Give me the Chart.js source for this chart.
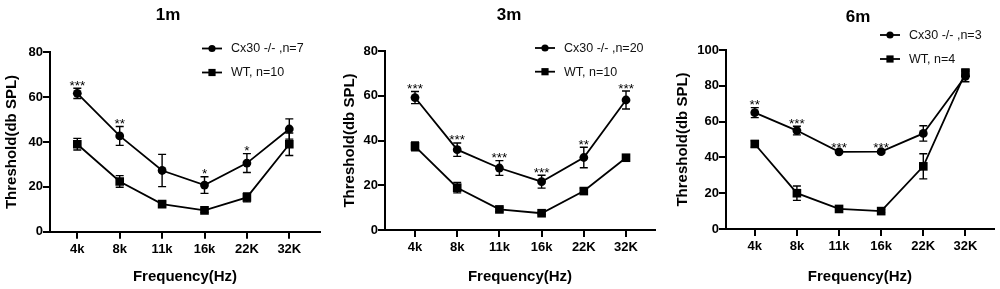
<!DOCTYPE html>
<html>
<head>
<meta charset="utf-8">
<script src="https://cdn.jsdelivr.net/npm/chart.js@4.4.1/dist/chart.umd.min.js"></script>
<style>
  html, body { margin: 0; padding: 0; background: #fff; }
  #wrap { position: relative; width: 1000px; height: 289px; overflow: hidden; background: #fff; }
  canvas { position: absolute; top: 0; }
</style>
</head>
<body>
<div id="wrap">
  <canvas id="c1" width="330" height="289" style="left:0px"></canvas>
  <canvas id="c2" width="335" height="289" style="left:330px"></canvas>
  <canvas id="c3" width="335" height="289" style="left:665px"></canvas>
</div>
<script>
// ---- data ----
const categories = ['4k', '8k', '11k', '16k', '22K', '32K'];
const panelTitles = ['1m', '3m', '6m'];
const cxLabels = ['Cx30 -/- ,n=7', 'Cx30 -/- ,n=20', 'Cx30 -/- ,n=3'];
const wtLabels = ['WT, n=10', 'WT, n=10', 'WT, n=4'];

const m1Cx = [61.7, 42.7, 27.3, 20.8, 30.6, 45.8];
const m1CxErr = [2.3, 4.2, 7.2, 3.7, 4.2, 4.5];
const m1WT = [39.0, 22.4, 12.3, 9.5, 15.3, 39.0];
const m1WTErr = [2.6, 2.6, 1.2, 0.9, 2.0, 5.0];
const m1Stars = ['***', '**', '', '*', '*', ''];

const m3Cx = [59.2, 35.9, 27.7, 21.6, 32.4, 58.1];
const m3CxErr = [2.7, 3.0, 3.3, 2.9, 4.6, 4.0];
const m3WT = [37.4, 18.9, 9.2, 7.5, 17.4, 32.3];
const m3WTErr = [2.0, 2.3, 1.0, 0.6, 1.2, 1.0];
const m3Stars = ['***', '***', '***', '***', '**', '***'];

const m6Cx = [65.0, 55.0, 43.1, 43.2, 53.4, 85.3];
const m6CxErr = [2.8, 2.4, 0.6, 0.6, 4.3, 3.0];
const m6WT = [47.5, 20.0, 11.2, 10.0, 35.0, 87.3];
const m6WTErr = [1.8, 4.0, 1.3, 0.8, 7.0, 2.0];
const m6Stars = ['**', '***', '***', '***', '', ''];

const yMaxes = [80, 80, 100];

// ---- rendering ----
Chart.defaults.color = '#000';
Chart.defaults.font.family = '"Liberation Sans", Arial, sans-serif';

const FONT = '"Liberation Sans", Arial, sans-serif';

const decorPlugin = {
  id: 'decor',
  beforeDatasetsDraw(chart) {
    const o = chart.options.plugins.decor;
    const ctx = chart.ctx;
    const xs = chart.scales.x, ys = chart.scales.y;
    ctx.save();
    ctx.strokeStyle = '#000';
    ctx.lineWidth = 1.4;
    o.errs.forEach((errArr, di) => {
      const vals = o.vals[di];
      errArr.forEach((e, i) => {
        const px = xs.getPixelForValue(i);
        const top = ys.getPixelForValue(vals[i] + e);
        const bot = ys.getPixelForValue(vals[i] - e);
        ctx.beginPath();
        ctx.moveTo(px, top); ctx.lineTo(px, bot);
        ctx.moveTo(px - 4, top); ctx.lineTo(px + 4, top);
        ctx.moveTo(px - 4, bot); ctx.lineTo(px + 4, bot);
        ctx.stroke();
      });
    });
    ctx.restore();
  },
  afterDatasetsDraw(chart) {
    const o = chart.options.plugins.decor;
    const ctx = chart.ctx;
    const xs = chart.scales.x, ys = chart.scales.y;
    ctx.save();
    // stars above Cx30 error bars
    ctx.fillStyle = '#000';
    ctx.font = '13.5px ' + FONT;
    ctx.textAlign = 'center';
    ctx.textBaseline = 'alphabetic';
    o.stars.forEach((s, i) => {
      if (!s) return;
      const px = xs.getPixelForValue(i);
      const top = ys.getPixelForValue(o.vals[0][i] + o.errs[0][i]);
      ctx.fillText(s, px, top + 1.5);
    });
    // panel title
    ctx.font = 'bold 17px ' + FONT;
    ctx.textBaseline = 'middle';
    ctx.fillText(o.title, o.titleX - o.offX, o.titleY);
    // legend
    ctx.textAlign = 'left';
    ctx.font = '12.5px ' + FONT;
    ctx.fillStyle = '#111';
    o.legend.forEach((lab, k) => {
      const mx = o.legX - o.offX, y = o.legY[k];
      ctx.strokeStyle = '#000';
      ctx.lineWidth = 1.8;
      ctx.beginPath(); ctx.moveTo(mx - 10, y); ctx.lineTo(mx + 10, y); ctx.stroke();
      ctx.fillStyle = '#000';
      ctx.beginPath();
      if (k === 0) { ctx.arc(mx, y, 3.6, 0, Math.PI * 2); ctx.fill(); }
      else { ctx.fillRect(mx - 3.6, y - 3.6, 7.2, 7.2); }
      ctx.fillStyle = '#111';
      ctx.fillText(lab, mx + 19, y + 0.5);
    });
    ctx.restore();
  }
};

function makePanel(id, p) {
  const cx = p.cx.map((v, i) => ({ x: i, y: v }));
  const wt = p.wt.map((v, i) => ({ x: i, y: v }));
  return new Chart(document.getElementById(id), {
    type: 'line',
    data: {
      datasets: [
        { label: p.legend[0], data: cx, borderColor: '#000', backgroundColor: '#000', borderWidth: 1.8,
          pointStyle: 'circle', pointRadius: 4.4, pointBorderWidth: 0, tension: 0 },
        { label: p.legend[1], data: wt, borderColor: '#000', backgroundColor: '#000', borderWidth: 1.8,
          pointStyle: 'rect', pointRadius: 6.1, pointBorderWidth: 0, tension: 0 }
      ]
    },
    options: {
      responsive: false,
      animation: false,
      devicePixelRatio: 1,
      layout: { padding: { left: 0, right: p.padR, top: p.top, bottom: 0 } },
      plugins: {
        legend: { display: false },
        title: { display: false },
        tooltip: { enabled: false },
        decor: {
          errs: [p.cxErr, p.wtErr], vals: [p.cx, p.wt], stars: p.stars,
          title: p.title, titleX: p.titleX, titleY: p.titleY, offX: p.offX,
          legend: p.legend, legX: p.legX, legY: p.legY
        }
      },
      scales: {
        x: {
          type: 'linear', min: p.xMin, max: p.xMax,
          afterBuildTicks: (s) => { s.ticks = categories.map((c, i) => ({ value: i })); },
          afterFit: (s) => { s.height = 289 - p.bottom; },
          ticks: { callback: (v) => categories[v], autoSkip: false, maxRotation: 0, padding: 2.5,
                   font: { size: 13, weight: 'bold', family: FONT }, color: '#000' },
          grid: { drawOnChartArea: false, drawTicks: true, tickLength: 7, color: '#000', lineWidth: 2 },
          border: { display: true, color: '#000', width: 2 },
          title: { display: true, text: 'Frequency(Hz)', color: '#000',
                   font: { size: 15, weight: 'bold', family: FONT }, padding: { top: 0, bottom: 3 } }
        },
        y: {
          min: 0, max: p.yMax,
          afterFit: (s) => { s.width = p.yW; },
          ticks: { stepSize: 20, padding: 0, font: { size: 13, weight: 'bold', family: FONT }, color: '#000' },
          grid: { drawOnChartArea: false, drawTicks: true, tickLength: 7, color: '#000', lineWidth: 2 },
          border: { display: true, color: '#000', width: 2 },
          title: { display: true, text: 'Threshold(db SPL)', color: '#000',
                   font: { size: 15, weight: 'bold', family: FONT }, padding: { top: p.yTitlePad, bottom: 0 } }
        }
      }
    },
    plugins: [decorPlugin]
  });
}

makePanel('c1', {
  cx: m1Cx, cxErr: m1CxErr, wt: m1WT, wtErr: m1WTErr, stars: m1Stars,
  title: panelTitles[0], legend: [cxLabels[0], wtLabels[0]], yMax: yMaxes[0],
  offX: 0, yW: 50, padR: 10, top: 52.3, bottom: 231.7, xMin: -0.644, xMax: 5.724,
  yTitlePad: 3, titleX: 168, titleY: 15, legX: 212, legY: [48.5, 72.5]
});
makePanel('c2', {
  cx: m3Cx, cxErr: m3CxErr, wt: m3WT, wtErr: m3WTErr, stars: m3Stars,
  title: panelTitles[1], legend: [cxLabels[1], wtLabels[1]], yMax: yMaxes[1],
  offX: 330, yW: 55, padR: 10, top: 51, bottom: 230, xMin: -0.711, xMax: 5.687,
  yTitlePad: 11, titleX: 509, titleY: 15, legX: 545, legY: [48, 71.7]
});
makePanel('c3', {
  cx: m6Cx, cxErr: m6CxErr, wt: m6WT, wtErr: m6WTErr, stars: m6Stars,
  title: panelTitles[2], legend: [cxLabels[2], wtLabels[2]], yMax: yMaxes[2],
  offX: 665, yW: 61, padR: 4, top: 50, bottom: 229, xMin: -0.683, xMax: 5.676,
  yTitlePad: 8.5, titleX: 858, titleY: 17, legX: 890, legY: [35, 59]
});
</script>
</body>
</html>
